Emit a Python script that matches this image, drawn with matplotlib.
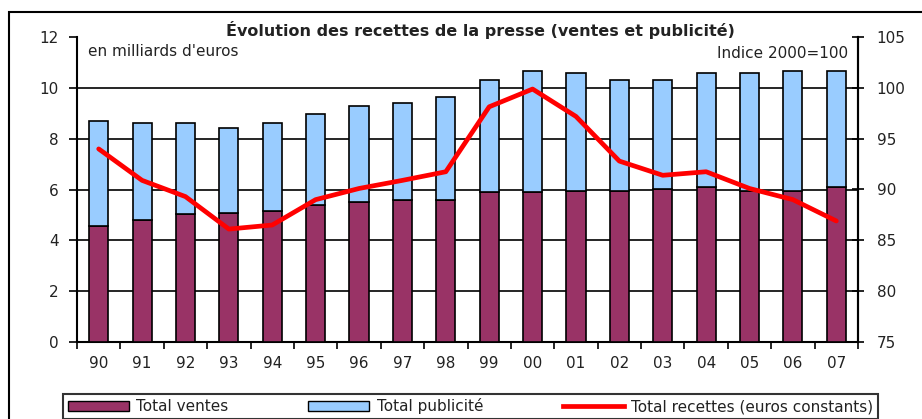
import matplotlib.pyplot as plt
from matplotlib.patches import Patch, Rectangle
from matplotlib.lines import Line2D
import numpy as np

# police large pour se rapprocher du texte étiré de l'original
plt.rcParams['font.family'] = ['DejaVu Sans']

# Données
annees = ['90', '91', '92', '93', '94', '95', '96', '97', '98',
          '99', '00', '01', '02', '03', '04', '05', '06', '07']
total = [8.71, 8.63, 8.63, 8.41, 8.63, 8.99, 9.29, 9.42, 9.63,
         10.31, 10.67, 10.59, 10.30, 10.30, 10.59, 10.59, 10.67, 10.67]
ventes = [4.57, 4.80, 5.03, 5.09, 5.15, 5.39, 5.52, 5.59, 5.59,
          5.89, 5.89, 5.94, 5.94, 6.03, 6.11, 5.94, 5.94, 6.11]
recettes_indice = [94.0, 90.9, 89.3, 86.1, 86.5, 89.0, 90.1, 90.9, 91.75,
                   98.15, 99.9, 97.2, 92.8, 91.4, 91.75, 90.1, 89.0, 86.9]

publicite = [t - v for t, v in zip(total, ventes)]

fig = plt.figure(figsize=(9.22, 4.19), dpi=100)
ax = fig.add_axes([77 / 922, 1 - 341.7 / 419, 781 / 922, 304.4 / 419])

x = np.arange(len(annees))
ax.bar(x, ventes, width=0.44, color='#993366', edgecolor='black', linewidth=1.2, zorder=3)
ax.bar(x, publicite, bottom=ventes, width=0.44, color='#99CCFF', edgecolor='black',
       linewidth=1.2, zorder=3)

ax.set_xlim(-0.5, len(annees) - 0.5)
ax.set_ylim(0, 12)
ax.set_yticks(range(0, 13, 2))
for yy in range(2, 12, 2):
    ax.axhline(yy, color='black', linewidth=1.2, zorder=1)

ax.set_xticks(x)
ax.set_xticklabels(annees)
ax.set_xticks(np.arange(-0.5, len(annees), 1), minor=True)
ax.tick_params(axis='x', which='major', length=0, pad=10, labelsize=11, labelcolor='#222222')
ax.tick_params(axis='x', which='minor', length=5, width=1.2, direction='out')
ax.tick_params(axis='y', length=6, width=1.2, labelsize=11, pad=7, labelcolor='#222222')
ax.spines['top'].set_visible(False)
for s in ['left', 'bottom', 'right']:
    ax.spines[s].set_linewidth(1.5)

ax2 = ax.twinx()
ax2.plot(x, recettes_indice, color='#FF0000', linewidth=3.4, zorder=5,
         solid_joinstyle='round', solid_capstyle='round')
ax2.set_ylim(75, 105)
ax2.set_yticks(range(75, 106, 5))
ax2.tick_params(axis='y', length=9, width=1.2, labelsize=11, pad=9, direction='inout',
                labelcolor='#222222')
ax2.spines['top'].set_visible(False)
ax2.spines['right'].set_linewidth(1.5)
ax2.spines['left'].set_visible(False)
ax2.spines['bottom'].set_visible(False)

fig.text(480 / 922, 1 - 30 / 419, 'Évolution des recettes de la presse (ventes et publicité)',
         ha='center', va='center', fontsize=11.5, fontweight='bold', color='#222222')
fig.text(88 / 922, 1 - 52 / 419, "en milliards d'euros", ha='left', va='center',
         fontsize=11, color='#222222')
fig.text(848 / 922, 1 - 53 / 419, 'Indice 2000=100', ha='right', va='center',
         fontsize=11, color='#222222')

handles = [Patch(facecolor='#993366', edgecolor='black'),
           Patch(facecolor='#99CCFF', edgecolor='black'),
           Line2D([0], [0], color='#FF0000', linewidth=3.4)]
labels = ['Total ventes', 'Total publicité', 'Total recettes (euros constants)']
leg = fig.legend(handles, labels, loc='lower left', bbox_to_anchor=(63 / 922, 0.0, 815 / 922, 28 / 419),
                 mode='expand', ncol=3, fontsize=11, frameon=True, fancybox=False,
                 handlelength=4.0, handleheight=0.55, handletextpad=0.5,
                 columnspacing=0.6, borderpad=0.3, borderaxespad=0)
leg.get_frame().set_edgecolor('black')
leg.get_frame().set_linewidth(1.5)
for t in leg.get_texts():
    t.set_color('#222222')

# cadre extérieur
fig.patches.append(Rectangle((9 / 922, -0.05), 1.0, 1 - 12 / 419 + 0.05, transform=fig.transFigure,
                             fill=False, edgecolor='black', linewidth=1.5))

fig.savefig('out.png', dpi=100)
